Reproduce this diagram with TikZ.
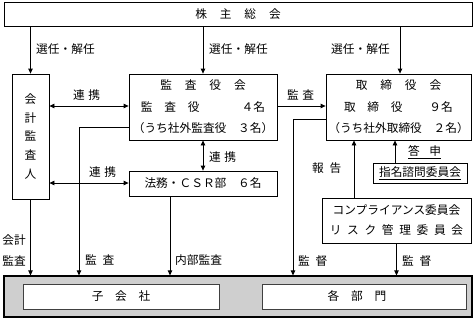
\documentclass[tikz,border=0pt]{standalone}
\usepackage{fontspec}
\newfontfamily\jp{Noto Sans CJK JP}
\usetikzlibrary{arrows.meta}
\begin{document}
\begin{tikzpicture}[x=1pt,y=-1pt,
  every node/.style={font=\jp\fontsize{11.7}{14}\selectfont, inner sep=0pt},
  box/.style={draw, line width=0.8pt, fill=white, align=center},
  conn/.style={line width=0.8pt, -{Triangle[length=5pt,width=4.5pt]}},
  dconn/.style={line width=0.8pt, {Triangle[length=5pt,width=4.5pt]}-{Triangle[length=5pt,width=4.5pt]}},
  lbl/.style={anchor=west}]
\useasboundingbox (0,0) rectangle (476,319);
% boxes
\node[box, minimum width=468pt, minimum height=24pt] (soukai) at (238,14)
  {株\hspace{1.1em}主\hspace{1.1em}総\hspace{1.1em}会};
\node[box, minimum width=37pt, minimum height=125pt, font=\jp\fontsize{11.7}{18.8}\selectfont] (kaikei) at (30.5,136.5)
  {会\\計\\監\\査\\人};
\node[box, minimum width=148pt, minimum height=66pt, font=\jp\fontsize{11.7}{21.5}\selectfont] (kansa) at (203,107)
  {監\hspace{1.1em}査\hspace{1.1em}役\hspace{1.1em}会\\
   監\hspace{1em}査\hspace{1em}役\hspace{3.6em}４名\\
   （うち社外監査役\hspace{1em}３名）};
\node[box, minimum width=145pt, minimum height=66pt, font=\jp\fontsize{11.7}{21.5}\selectfont] (tori) at (398.5,107)
  {取\hspace{1.1em}締\hspace{1.1em}役\hspace{1.1em}会\\
   取\hspace{1em}締\hspace{1em}役\hspace{2.3em}９名\\
   （うち社外取締役\hspace{1em}２名）};
\node[box, minimum width=148pt, minimum height=25pt] (houmu) at (203,183.5)
  {法務・ＣＳＲ部\hspace{1em}６名};
\node[box, minimum width=94pt, minimum height=20pt] (shimei) at (420,173)
  {\underline{指名諮問委員会}};
\node[box, minimum width=149pt, minimum height=45pt, font=\jp\fontsize{11.7}{20}\selectfont] (comp) at (396.5,220.5)
  {コンプライアンス委員会\\
   \makebox[11.4em]{リ\hfill ス\hfill ク\hfill 管\hfill 理\hfill 委\hfill 員\hfill 会}};
\node[draw, line width=1.2pt, fill=black!19, minimum width=468pt, minimum height=41pt] (graybox) at (238,296.5) {};
\node[box, draw=black!75, minimum width=196pt, minimum height=25pt] (kogaisha) at (121,296.5)
  {子\hspace{1em}会\hspace{1em}社};
\node[box, draw=black!75, minimum width=204pt, minimum height=25pt] (kakubu) at (364,296.5)
  {各\hspace{1em}部\hspace{1em}門\hspace{1.2em}};
% connectors
\draw[conn] (soukai.south -| kaikei.north) -- (kaikei.north);
\draw[conn] (soukai.south -| kansa.north) -- (kansa.north);
\draw[conn] (soukai.south -| 400,0) -- (tori.north -| 400,0);
\draw[dconn] (kaikei.east |- 0,106) -- (kansa.west |- 0,106);
\draw[conn] (kansa.east |- 0,106) -- (tori.west |- 0,106);
\draw[conn] (kansa.west |- 0,127) -| (graybox.north -| 79,0);
\draw[conn] (tori.west |- 0,119) -| (graybox.north -| 293,0);
\draw[conn] (kaikei.south) -- (graybox.north -| kaikei.south);
\draw[conn] (houmu.south -| 170,0) -- (graybox.north -| 170,0);
\draw[dconn] (kansa.south) -- (houmu.north);
\draw[dconn] (kaikei.east |- 0,183) -- (houmu.west |- 0,183);
\draw[conn] (comp.north -| 354,0) -- (tori.south -| 354,0);
\draw[conn] (shimei.north -| 395,0) -- (tori.south -| 395,0);
\draw[conn] (comp.south) -- (graybox.north -| comp.south);
% labels
\node[lbl] (l1) at (36,49) {選任・解任};
\node[lbl] (l2) at (209,49) {選任・解任};
\node[lbl] (l3) at (331,49) {選任・解任};
\node[lbl] (l4) at (73,95) {連\hspace{0.3em}携};
\node[lbl] (l5) at (287,95) {監\hspace{0.3em}査};
\node[lbl] (l6) at (209,157) {連\hspace{0.3em}携};
\node[lbl] (l7) at (89,172) {連\hspace{0.3em}携};
\node[lbl] (l8) at (312,168) {報\hspace{0.5em}告};
\node[lbl] (l9) at (408,152) {\underline{答\hspace{0.8em}申}};
\node[anchor=east, align=right, font=\jp\fontsize{11.7}{21}\selectfont] (l10) at (26,250) {会計\\監査};
\node[lbl] (l11) at (85,260) {監\hspace{0.5em}査};
\node[lbl] (l12) at (175,260) {内部監査};
\node[lbl] (l13) at (298,261) {監\hspace{0.5em}督};
\node[lbl] (l14) at (402,261) {監\hspace{0.5em}督};
\end{tikzpicture}
\end{document}
